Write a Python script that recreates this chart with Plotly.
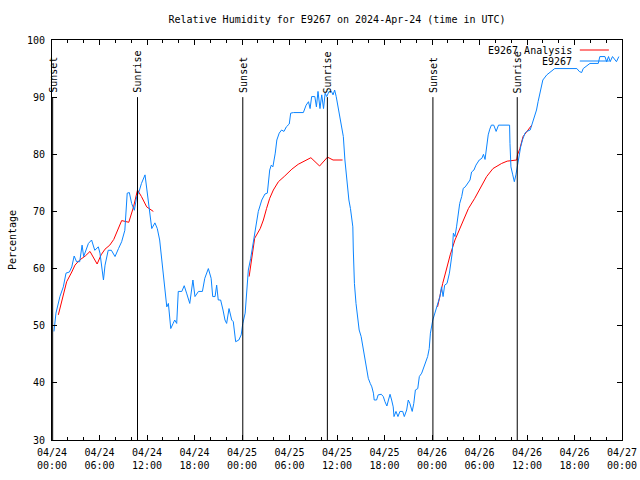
import plotly.graph_objects as go
import pandas as pd

start = pd.Timestamp("2024-04-24 00:00")

# Observed relative humidity (E9267): hours since 04/24 00:00 UTC, percent
blue_hours = [0.25, 0.5, 1.0, 1.43, 1.77, 2.2, 2.5, 2.8, 3.1, 3.5, 3.8, 4.0, 4.6, 5.0, 5.4, 5.85, 6.06, 6.3, 6.5, 6.7,
              7.1, 7.5, 7.96, 8.4, 8.8, 9.2, 9.5, 9.77, 10.06, 10.4, 10.7, 11.0, 11.3, 11.75, 11.96, 12.3, 12.6, 13.0,
              13.3, 13.6, 14.0, 14.3, 14.5, 14.7, 15.0, 15.3, 15.5, 15.75, 15.95, 16.4, 16.7, 17.0, 17.4, 17.8, 18.06,
              18.5, 19.0, 19.3, 19.75, 20.1, 20.3, 20.6, 20.8, 21.0, 21.3, 21.6, 21.85, 22.06, 22.36, 22.7, 22.9, 23.2,
              23.6, 23.9, 24.1, 24.4, 24.6, 24.8, 25.1, 25.35, 25.8, 26.06, 26.5, 26.9, 27.2, 27.5, 27.7, 27.9, 28.2,
              28.4, 28.7, 29.0, 29.3, 29.6, 29.97, 30.15, 30.5, 31.75, 32.1, 32.4, 32.6, 32.8, 33.2, 33.4, 33.6, 33.85,
              34.07, 34.3, 34.5, 34.7, 35.0, 35.3, 35.5, 35.7, 35.9, 36.2, 36.4, 36.6, 36.8, 37.0, 37.2, 37.3, 37.5,
              37.7, 38.0, 38.06, 38.2, 38.4, 38.6, 38.8, 39.05, 39.3, 39.5, 39.75, 39.95, 40.2, 40.4, 40.6, 40.7, 41.0,
              41.2, 41.6, 41.85, 42.06, 42.3, 42.5, 42.7, 42.9, 43.1, 43.2, 43.45, 43.7, 43.95, 44.3, 44.5, 44.8, 45.0,
              45.2, 45.5, 45.7, 45.9, 46.2, 46.4, 46.7, 47.0, 47.2, 47.45, 47.65, 47.8, 48.1, 48.3, 48.5, 48.65, 49.0,
              49.2, 49.4, 49.6, 49.9, 50.2, 50.4, 50.55, 50.7, 50.9, 51.1, 51.3, 51.5, 51.75, 51.95, 52.2, 52.45, 52.8,
              53.0, 53.3, 53.55, 53.97, 54.3, 54.5, 54.7, 54.9, 55.1, 55.3, 55.5, 55.8, 56.1, 56.4, 57.8, 57.85, 57.97,
              58.2, 58.4, 58.6, 58.8, 59.0, 59.2, 59.45, 59.75, 59.96, 60.4, 60.6, 61.0, 61.2, 61.4, 61.6, 62.0, 62.5,
              62.9, 63.5, 66.3, 66.6, 66.9, 67.1, 67.95, 69.0, 69.2, 69.85, 70.06, 70.3, 70.5, 70.8, 71.3, 71.6]
blue_values = [49.0, 52.2, 55.1, 56.8, 59.2, 59.4, 60.3, 62.2, 61.2, 61.2, 64.1, 62.1, 64.4, 65.0, 63.2, 63.8, 62.7, 59.7,
               58.0, 60.6, 63.2, 63.2, 62.1, 63.5, 64.7, 66.7, 73.2, 73.3, 71.4, 70.2, 72.6, 73.5, 74.9, 76.4, 74.3,
               70.2, 67.0, 68.0, 67.0, 65.0, 59.2, 55.1, 53.3, 53.9, 49.5, 50.4, 51.0, 50.4, 56.0, 56.0, 57.0, 55.7,
               53.9, 58.0, 55.1, 56.0, 56.0, 58.3, 60.0, 58.3, 55.1, 55.1, 57.1, 54.5, 54.5, 52.75, 51.0, 50.4, 53.0,
               51.0, 50.7, 47.2, 47.5, 48.4, 50.4, 52.2, 56.0, 59.75, 61.8, 63.8, 67.3, 70.0, 72.0, 73.05, 73.2, 77.25,
               78.1, 77.8, 80.2, 82.5, 83.7, 84.25, 84.0, 84.8, 85.3, 87.2, 87.3, 87.3, 88.6, 89.2, 88.0, 90.1, 90.1,
               88.3, 91.0, 88.0, 90.4, 88.0, 90.7, 90.1, 91.0, 91.0, 90.4, 91.25, 90.1, 87.75, 86.0, 84.5, 83.1, 79.0,
               76.1, 73.75, 72.0, 70.5, 67.3, 63.25, 57.4, 53.9, 51.0, 49.25, 48.1, 46.0, 44.0, 42.25, 40.8, 39.9,
               39.3, 38.2, 37.0, 37.0, 37.9, 38.0, 37.6, 36.7, 35.95, 37.0, 38.0, 37.0, 35.8, 34.1, 35.0, 34.1, 35.0,
               35.0, 34.1, 35.25, 37.0, 36.4, 35.0, 36.4, 38.75, 39.0, 41.1, 41.7, 42.8, 43.7, 44.6, 46.0, 48.7, 51.0,
               51.9, 52.5, 53.3, 55.1, 56.8, 55.1, 57.1, 57.4, 59.2, 61.5, 62.7, 66.2, 65.6, 67.3, 69.7, 71.4, 72.6,
               74.05, 74.3, 74.9, 75.5, 76.9, 77.25, 78.1, 79.0, 79.3, 80.0, 79.1, 81.3, 83.4, 84.4, 85.1, 85.1, 84.0,
               85.1, 85.1, 81.9, 77.8, 76.4, 75.2, 76.4, 78.1, 79.6, 81.3, 82.6, 83.7, 84.0, 84.25, 85.1, 86.9, 87.75,
               89.2, 90.7, 93.0, 93.9, 94.3, 95.0, 95.0, 94.5, 94.3, 95.0, 95.9, 95.9, 97.1, 97.1, 96.2, 97.1, 96.2,
               97.1, 96.2, 97.1]

# Analysis (E9267 Analysis): three segments, None marks a gap
red_hours = [0.8, 1.2, 1.85, 2.5, 2.9, 3.5, 4.2, 4.8, 5.2, 5.7, 6.2, 6.7, 7.3, 7.8, 8.3, 8.8, 9.7, 10.3, 10.8, 11.3,
             11.96, 12.4, 12.8, None,
             24.9, 25.1, 25.35, 25.6, 26.3, 26.7, 27.1, 27.5, 27.96, 28.6, 29.4, 30.3, 31.1, 31.96, 32.7, 33.8, 34.8,
             35.5, 36.7, None,
             48.7, 49.0, 49.35, 49.8, 50.3, 50.9, 51.75, 52.6, 53.4, 54.1, 54.9, 55.7, 56.8, 57.5, 58.7, 58.8, 59.1,
             59.5, 59.96, 60.6]
red_values = [51.9, 54.2, 57.7, 59.4, 60.6, 61.5, 62.2, 63.0, 62.1, 60.8, 62.4, 63.4, 64.1, 65.1, 66.75, 68.4, 68.1,
              70.8, 73.75, 72.6, 70.8, 70.3, 70.0, None,
              58.6, 60.6, 63.25, 65.3, 67.0, 68.5, 70.5, 72.3, 73.75, 75.2, 76.2, 77.4, 78.25, 78.9, 79.4, 77.95, 79.5,
              79.0, 79.0, None,
              53.3, 55.4, 57.4, 59.75, 62.4, 65.0, 67.9, 70.5, 72.3, 74.05, 76.1, 77.5, 78.4, 78.8, 79.0, 79.9, 81.0,
              83.1, 84.0, 85.1]

# Sun events (UTC)
event_times = ["2024-04-24 00:05", "2024-04-24 10:48", "2024-04-25 00:06",
               "2024-04-25 10:47", "2024-04-26 00:07", "2024-04-26 10:46"]
event_labels = ["Sunset", "Sunrise", "Sunset", "Sunrise", "Sunset", "Sunrise"]
event_top = 90

legend_names = ["E9267 Analysis", "E9267"]
series_colors = ["#ff0000", "#0a84ff"]

def to_time(hours):
    return [None if h is None else start + pd.Timedelta(hours=h) for h in hours]

FONT = "DejaVu Sans Mono"
W, H = 640, 480

fig = go.Figure()
fig.add_trace(go.Scatter(x=to_time(red_hours), y=red_values, mode="lines", name=legend_names[0],
                         line=dict(color=series_colors[0], width=1), connectgaps=False, showlegend=False))
fig.add_trace(go.Scatter(x=to_time(blue_hours), y=blue_values, mode="lines", name=legend_names[1],
                         line=dict(color=series_colors[1], width=1), showlegend=False))

shapes = []
annotations = []
for t, lab in zip(event_times, event_labels):
    shapes.append(dict(type="line", xref="x", yref="y", x0=t, x1=t, y0=30, y1=event_top,
                       line=dict(color="black", width=1)))
    annotations.append(dict(x=t, y=event_top, xref="x", yref="y", text=lab, textangle=-90,
                            showarrow=False, yanchor="bottom", xanchor="center", yshift=2,
                            font=dict(family=FONT, size=10, color="black")))

# legend (gnuplot style: text left, sample right)
leg_rows_y = [0.975, 0.9475]
for name, col, yy in zip(legend_names, series_colors, leg_rows_y):
    annotations.append(dict(x=0.915, y=yy, xref="paper", yref="paper", text=name, showarrow=False,
                            xanchor="right", yanchor="middle", font=dict(family=FONT, size=10, color="black")))
    shapes.append(dict(type="line", xref="paper", yref="paper", x0=0.926, x1=0.977, y0=yy, y1=yy,
                       line=dict(color=col, width=1)))

annotations.append(dict(x=-0.07, y=0.5, xref="paper", yref="paper", text="Percentage", textangle=-90,
                        showarrow=False, xanchor="center", yanchor="middle",
                        font=dict(family=FONT, size=10, color="black")))

fig.update_layout(
    width=W, height=H,
    margin=dict(l=52, r=18, t=40, b=40, autoexpand=False),
    paper_bgcolor="white", plot_bgcolor="white",
    font=dict(family=FONT, size=10, color="black"),
    title=dict(text="Relative Humidity for E9267 on 2024-Apr-24 (time in UTC)", x=0.5, xref="paper",
               y=1 - 19 / H, yref="container", yanchor="middle", xanchor="center",
               font=dict(family=FONT, size=10, color="black")),
    shapes=shapes, annotations=annotations, showlegend=False,
)
fig.update_xaxes(range=["2024-04-24 00:00", "2024-04-27 00:00"], showgrid=False, zeroline=False,
                 automargin=False, ticklabeloverflow="allow",
                 showline=True, linecolor="black", linewidth=1, mirror="ticks",
                 ticks="inside", ticklen=5, tickcolor="black", dtick=6 * 3600 * 1000,
                 tick0="2024-04-24 00:00", tickformat="%m/%d<br>%H:%M", ticklabelstandoff=3,
                 minor=dict(dtick=2 * 3600 * 1000, ticks="inside", ticklen=3, tickcolor="black", showgrid=False),
                 tickfont=dict(family=FONT, size=10, color="black"))
fig.update_yaxes(range=[30, 100], dtick=10, showgrid=False, zeroline=False,
                 automargin=False,
                 showline=True, linecolor="black", linewidth=1, mirror="ticks",
                 ticks="inside", ticklen=5, tickcolor="black", ticklabelstandoff=4,
                 tickfont=dict(family=FONT, size=10, color="black"))

fig.write_html("out.html", config={"displayModeBar": False},
               post_script="document.body.style.margin='0';document.body.style.overflow='hidden';")
